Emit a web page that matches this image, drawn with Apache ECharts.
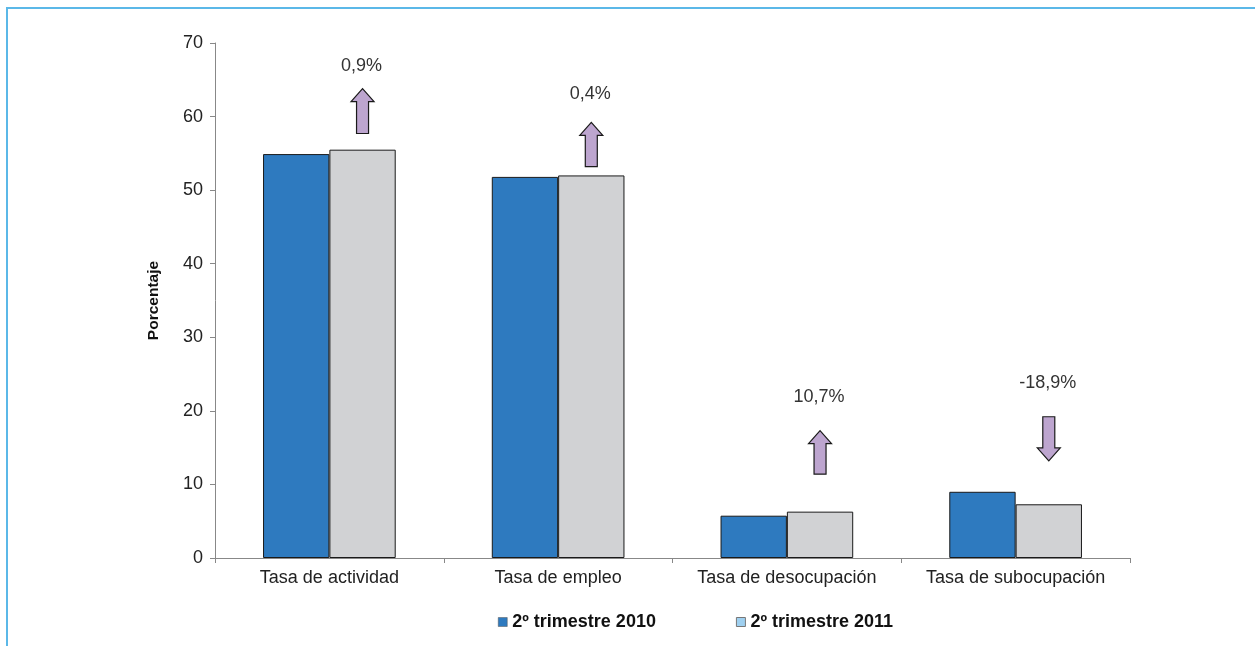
<!DOCTYPE html>
<html>
<head>
<meta charset="utf-8">
<script src="https://cdn.jsdelivr.net/npm/echarts@6/dist/echarts.min.js"></script>
<style>
html,body{margin:0;padding:0;background:#fff;}
#chart{width:1255px;height:646px;}
</style>
</head>
<body>
<div id="chart"></div>
<script>
var categories = ['Tasa de actividad', 'Tasa de empleo', 'Tasa de desocupación', 'Tasa de subocupación'];
var seriesNames = ['2º trimestre 2010', '2º trimestre 2011'];
var values2010 = [54.9, 51.8, 5.75, 9.0];
var values2011 = [55.5, 52.0, 6.3, 7.3];
var changeLabels = ['0,9%', '0,4%', '10,7%', '-18,9%'];
var arrowBase = [57.7, 53.2, 11.4, 19.2];
var arrowTip = [63.8, 59.2, 17.3, 13.2];
var labelLevel = [66.9, 63.1, 21.9, 23.8];
var yTicks = [0, 10, 20, 30, 40, 50, 60, 70];

var FONT = '"Liberation Sans", Arial, sans-serif';

var arrowData = categories.map(function (c, i) {
  return [i, arrowBase[i], arrowTip[i], labelLevel[i]];
});

function renderArrow(params, api) {
  var idx = api.value(0);
  var pb = api.coord([idx, api.value(1)]);
  var pt = api.coord([idx, api.value(2)]);
  var pl = api.coord([idx, api.value(3)]);
  var cw = api.size([1, 0])[0];
  var cx = pb[0] + cw * 0.145;
  var dir = pt[1] < pb[1] ? -1 : 1; // -1 = up
  var headH = 13, headW = 11.5, shaftW = 6;
  var headBaseY = pt[1] - dir * headH;
  var pts = [
    [cx - shaftW, pb[1]],
    [cx - shaftW, headBaseY],
    [cx - headW, headBaseY],
    [cx, pt[1]],
    [cx + headW, headBaseY],
    [cx + shaftW, headBaseY],
    [cx + shaftW, pb[1]]
  ];
  return {
    type: 'group',
    children: [
      {
        type: 'polygon',
        shape: { points: pts },
        style: { fill: '#bda5cf', stroke: '#1a1a1a', lineWidth: 1.2 }
      },
      {
        type: 'text',
        style: {
          text: changeLabels[params.dataIndex],
          x: cx - 1, y: pl[1],
          textAlign: 'center', textVerticalAlign: 'middle',
          font: '18px ' + FONT, fill: '#333'
        }
      }
    ]
  };
}

var chart = echarts.init(document.getElementById('chart'));
chart.setOption({
  animation: false,
  backgroundColor: '#fff',
  graphic: [{
    type: 'polyline',
    shape: { points: [[7, 660], [7, 8], [1270, 8]] },
    style: { stroke: '#5bb8e8', lineWidth: 2, fill: null }
  }],
  grid: { left: 215, top: 43, right: 125, bottom: 88 },
  legend: {
    top: 608,
    left: 493,
    itemWidth: 9,
    itemHeight: 9,
    itemGap: 80,
    icon: 'rect',
    textStyle: { fontFamily: FONT, fontWeight: 'bold', fontSize: 18, color: '#111' },
    data: [
      { name: seriesNames[0], itemStyle: { color: '#2e7abf', borderColor: '#555', borderWidth: 0.5 } },
      { name: seriesNames[1], itemStyle: { color: '#9fd0f0', borderColor: '#777', borderWidth: 1 } }
    ]
  },
  xAxis: {
    type: 'category',
    data: categories,
    axisLine: { lineStyle: { color: '#888', width: 1 } },
    axisTick: { show: true, interval: 0, length: 5, lineStyle: { color: '#888' } },
    axisLabel: { interval: 0, fontFamily: FONT, fontSize: 18, color: '#222', margin: 11 }
  },
  yAxis: {
    type: 'value',
    min: 0, max: 70, interval: 10,
    name: 'Porcentaje',
    nameLocation: 'middle',
    nameGap: 53,
    nameTextStyle: { fontFamily: FONT, fontWeight: 'bold', fontSize: 15.5, color: '#111' },
    axisLine: { show: true, lineStyle: { color: '#888', width: 1 } },
    axisTick: { show: true, length: 5, lineStyle: { color: '#888' } },
    splitLine: { show: false },
    axisLabel: {
      fontFamily: FONT, fontSize: 18, color: '#222', margin: 12,
      formatter: function (v) { return yTicks.indexOf(v) >= 0 ? String(v) : ''; }
    }
  },
  series: [
    {
      name: seriesNames[0], type: 'bar', data: values2010,
      barGap: '0%', barCategoryGap: '42%',
      itemStyle: { color: '#2e7abf', borderColor: '#1a1a1a', borderWidth: 1 }
    },
    {
      name: seriesNames[1], type: 'bar', data: values2011,
      barGap: '0%', barCategoryGap: '42%',
      itemStyle: { color: '#d1d2d4', borderColor: '#1a1a1a', borderWidth: 1 }
    },
    {
      name: 'cambio', type: 'custom', renderItem: renderArrow,
      data: arrowData, encode: { x: 0, y: [1, 2] }, z: 5, silent: true
    }
  ]
});
</script>
</body>
</html>
